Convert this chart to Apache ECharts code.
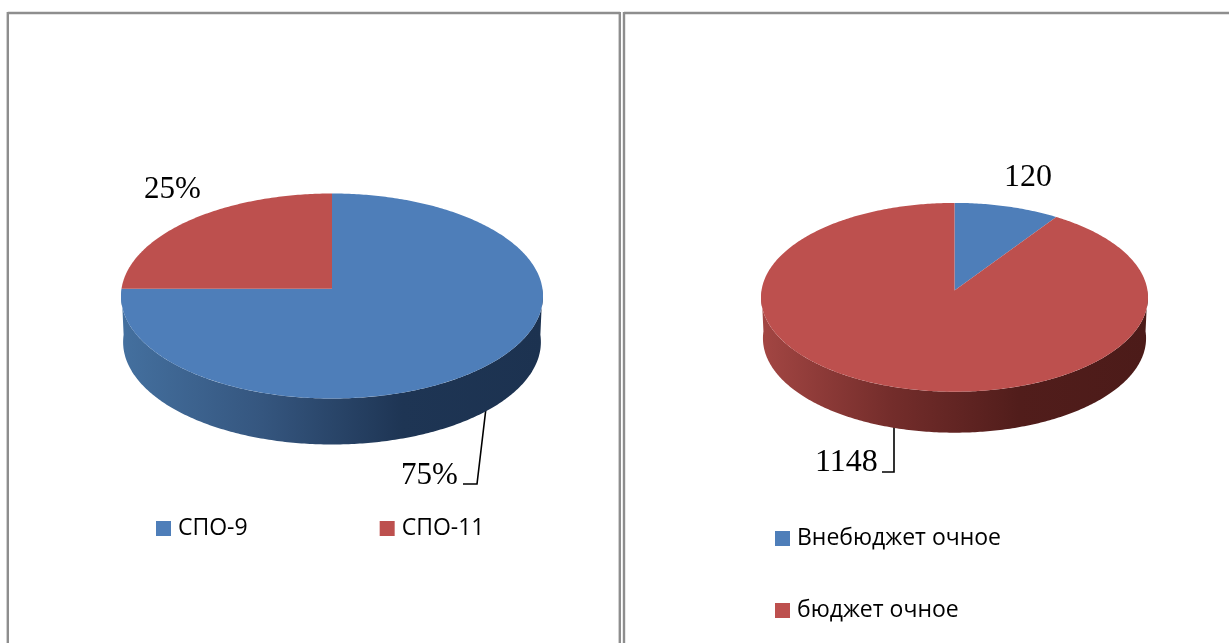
<!DOCTYPE html>
<html><head><meta charset="utf-8">
<style>html,body{margin:0;padding:0;background:#fff}#c{width:1229px;height:643px}</style>
<script src="https://cdn.jsdelivr.net/npm/echarts@6/dist/echarts.min.js"></script>
</head><body><div id="c"></div>
<script>
const categoriesA = ['СПО-9', 'СПО-11'];
const valuesA = [75, 25];
const labelsA = ['75%', '25%'];
const categoriesB = ['Внебюджет очное', 'бюджет очное'];
const valuesB = [120, 1148];
const labelsB = ['120', '1148'];

const BLUE = '#4e7eb9', RED = '#bd504e';
const wallBlue = ['#44709f', '#35567f', '#1e3554', '#1c3250'];
const wallRed = ['#a34643', '#742d2b', '#511d1b', '#4c1b19'];

const pieA = {cx: 332, cy: 296, rx: 211, ry: 102.5, ay: 288.8, depth: 46};
const pieB = {cx: 954.5, cy: 297.3, rx: 193.5, ry: 94.4, ay: 290.4, depth: 41};

function rim(p, t) {
  const k = (p.cy - p.ay) / p.ry, ux = Math.sin(t), uy = -Math.cos(t);
  const b = -k * uy, c = k * k - 1, s = -b + Math.sqrt(b * b - c);
  return [s * ux, -k + s * uy];
}
function toXY(p, n, sx, dy) {
  return [p.cx + n[0] * p.rx * sx, p.cy + n[1] * p.ry + dy];
}
function arc(p, t0, t1, sx, dy) {
  const pts = [], N = Math.max(2, Math.ceil((t1 - t0) * 80));
  for (let i = 0; i <= N; i++) pts.push(toXY(p, rim(p, t0 + (t1 - t0) * i / N), sx, dy));
  return pts;
}
function wedgeSeries(name, p, values, idx, color, wallColors) {
  const total = values.reduce((a, b) => a + b, 0);
  const before = values.slice(0, idx).reduce((a, b) => a + b, 0);
  const t0 = before / total * 2 * Math.PI, t1 = (before + values[idx]) / total * 2 * Math.PI;
  return {
    type: 'custom', name, coordinateSystem: 'none', silent: true, animation: false,
    itemStyle: {color}, data: [values[idx]], z: 2,
    renderItem() {
      const children = [];
      const w0 = Math.max(t0, Math.PI / 2), w1 = Math.min(t1, Math.PI * 1.5);
      if (w1 > w0) {
        const top = arc(p, w0, w1, 1, 0), bot = arc(p, w0, w1, 0.99, p.depth).reverse();
        const n = wallColors.length;
        children.push({type: 'polygon', shape: {points: top.concat(bot)}, style: {
          fill: {type: 'linear', x: 0, y: 0, x2: 1, y2: 0,
            colorStops: wallColors.map((c, i) => ({offset: i / (n - 1), color: c}))}
        }});
      }
      children.push({type: 'polygon',
        shape: {points: [[p.cx, p.ay]].concat(arc(p, t0, t1, 1, 0))},
        style: {fill: color}});
      return {type: 'group', children};
    }
  };
}
function text(s, x, y, size) {
  return {type: 'text', x, y, silent: true, style: {text: s, fill: '#000', fontFamily: '"Liberation Serif"', fontSize: size, textAlign: 'left', textVerticalAlign: 'top'}};
}
function leader(points) {
  return {type: 'polyline', silent: true, shape: {points}, style: {stroke: '#000', lineWidth: 1.6, fill: null}};
}
function rule(x1, y1, x2, y2) {
  return {type: 'line', silent: true, shape: {x1, y1, x2, y2}, style: {stroke: '#8e8e8e', lineWidth: 2.4}};
}
const legendText = {fontFamily: '"Open Sans"', fontSize: 23, color: '#000', padding: [0, 0, 0, 2]};
const chart = echarts.init(document.getElementById('c'), null, {renderer: 'canvas'});
chart.setOption({
  backgroundColor: '#fff', animation: false,
  legend: [
    {data: categoriesA, left: 156, top: 517, icon: 'rect', itemWidth: 15, itemHeight: 15, itemGap: 132, selectedMode: false, textStyle: legendText, padding: 0},
    {data: categoriesB, left: 775, top: 527, orient: 'vertical', icon: 'rect', itemWidth: 15, itemHeight: 15, itemGap: 49, selectedMode: false, textStyle: legendText, padding: 0}
  ],
  series: [
    wedgeSeries(categoriesA[0], pieA, valuesA, 0, BLUE, wallBlue),
    wedgeSeries(categoriesA[1], pieA, valuesA, 1, RED, wallRed),
    wedgeSeries(categoriesB[0], pieB, valuesB, 0, BLUE, wallBlue),
    wedgeSeries(categoriesB[1], pieB, valuesB, 1, RED, wallRed)
  ],
  graphic: {elements: [
    rule(7.8, 13, 620, 13), rule(7.8, 12, 7.8, 643), rule(619.8, 12, 619.8, 643),
    rule(624, 13, 1229, 13), rule(624, 12, 624, 643),
    leader([[486, 408], [477, 484], [463, 484]]),
    leader([[894, 427], [894, 472], [882, 472]]),
    text(labelsA[0], 401, 460, 31), text(labelsA[1], 144, 174, 31),
    text(labelsB[0], 1004, 162, 32), text(labelsB[1], 815, 447, 32)
  ]}
});
</script></body></html>
